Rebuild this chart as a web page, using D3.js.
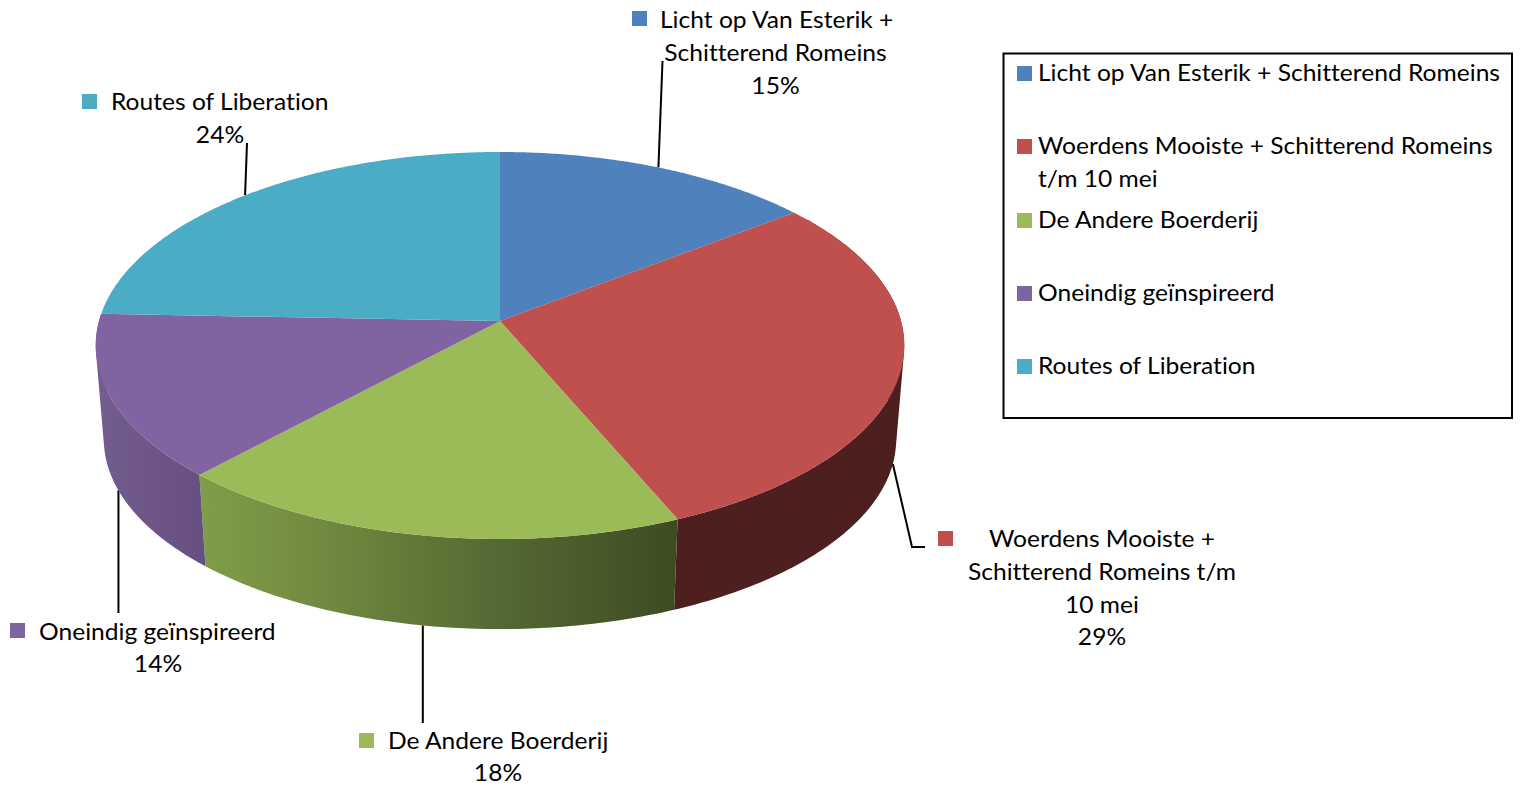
<!DOCTYPE html>
<html>
<head>
<meta charset="utf-8">
<script src="https://cdn.jsdelivr.net/npm/d3@7/dist/d3.min.js"></script>
<style>
html,body{margin:0;padding:0;background:#fff;overflow:hidden}
text{font-family:Lato,"Open Sans",sans-serif;font-size:23.5px;fill:#000;font-variant-ligatures:none}
</style>
</head>
<body>
<svg id="chart" width="1523" height="787"></svg>
<script>
// ---- data ----
const categories = [
  "Licht op Van Esterik + Schitterend Romeins",
  "Woerdens Mooiste + Schitterend Romeins t/m 10 mei",
  "De Andere Boerderij",
  "Oneindig geïnspireerd",
  "Routes of Liberation"
];
const values = [14.5, 29.1, 18.3, 13.7, 24.4];
const percentLabels = ["15%", "29%", "18%", "14%", "24%"];
const colors = ["#4f81bd", "#bf504e", "#9bbb59", "#8064a2", "#4bacc6"];
const legendLines = [
  ["Licht op Van Esterik + Schitterend Romeins"],
  ["Woerdens Mooiste + Schitterend Romeins", "t/m 10 mei"],
  ["De Andere Boerderij"],
  ["Oneindig geïnspireerd"],
  ["Routes of Liberation"]
];
const labelLines = [
  ["Licht op Van Esterik +", "Schitterend Romeins"],
  ["Woerdens Mooiste +", "Schitterend Romeins t/m", "10 mei"],
  ["De Andere Boerderij"],
  ["Oneindig geïnspireerd"],
  ["Routes of Liberation"]
];

// ---- layout ----
const cx = 500, cy = 321, R = 401, B = 190.4, K = 0.1266;
const depth = 94.4, bottomScale = 0.98, lineH = 32.8;
const labelLayout = [
  {mx: 632, my: 11, cxText: 775.5, y0: 28, firstX: 660},
  {mx: 938, my: 531, cxText: 1102, y0: 547, firstX: 989},
  {mx: 359, my: 733, cxText: 498, y0: 748.5, firstX: 388},
  {mx: 10, my: 623, cxText: 158, y0: 639.5, firstX: 39},
  {mx: 82, my: 94, cxText: 220, y0: 110, firstX: 111}
];
const legendY = [81, 154, 228, 301, 374];

const svg = d3.select("#chart");
const defs = svg.append("defs");
function wallGradient(id, x1, x2, stops) {
  const g = defs.append("linearGradient").attr("id", id).attr("gradientUnits", "userSpaceOnUse")
    .attr("x1", x1).attr("x2", x2).attr("y1", 0).attr("y2", 0);
  stops.forEach(s => g.append("stop").attr("offset", s[0]).attr("stop-color", s[1]));
}
wallGradient("w1", 640, 900, [[0, "#4d1f1f"], [1, "#4d1f1f"]]);
wallGradient("w2", 204, 677, [[0, "#7f9d48"], [0.25, "#708a40"], [0.6, "#566b33"], [1, "#3e4b22"]]);
wallGradient("w3", 100, 204, [[0, "#735c8e"], [1, "#684f82"]]);

// perspective projection of a point on the pie's rim
const xS = d3.scaleLinear().domain([-1, 1]).range([cx - R, cx + R]);
const yS = d3.scaleLinear().domain([-1, 1]).range([cy + B, cy - B]);
function topPt(a) {
  const X = Math.sin(a), Y = Math.cos(a), w = 1 + K * Y;
  return [xS(X / w), yS(Y / w)];
}
function bottomPt(a) {
  const p = topPt(a);
  return [cx + bottomScale * (p[0] - cx), cy + depth + bottomScale * (p[1] - cy)];
}

const arcs = d3.pie().sort(null).value(d => d)(values);
const lineGen = d3.line();
const rad = Math.PI / 180;

// leaders first (below the pie)
const leaderG = svg.append("g").attr("fill", "none").attr("stroke", "#000").attr("stroke-width", 2);
arcs.forEach((d, i) => {
  const mid = (d.startAngle + d.endAngle) / 2;
  let pts;
  if (i === 0) pts = [topPt(mid), [662.5, 61]];
  if (i === 1) pts = [bottomPt(mid), [912, 547], [925, 547]];
  if (i === 2) pts = [bottomPt(mid), [bottomPt(mid)[0], 723]];
  if (i === 3) pts = [bottomPt(mid), [bottomPt(mid)[0], 613]];
  if (i === 4) pts = [topPt(mid), [247, 143]];
  leaderG.append("path").attr("d", lineGen(pts));
});

// side walls: swept rim segments, only the part that faces the viewer.
// Every small quad is given the same winding so overlaps never cancel.
const wallFrom = 55 * rad, wallTo = 272 * rad;
arcs.forEach((d, i) => {
  const a0 = Math.max(d.startAngle, wallFrom), a1 = Math.min(d.endAngle, wallTo);
  if (a1 <= a0) return;
  const steps = d3.range(a0, a1, 0.5 * rad).concat([a1]);
  let path = "";
  steps.forEach((a, n) => {
    if (n === 0) return;
    const prev = steps[Math.max(0, n - 2)];
    const quad = [topPt(prev), topPt(a), bottomPt(a), bottomPt(prev)];
    if (d3.polygonArea(quad) < 0) quad.reverse();
    path += lineGen(quad) + "Z";
  });
  svg.append("path").attr("d", path).attr("fill", `url(#w${i})`);
});

// top faces
arcs.forEach((d, i) => {
  const rim = d3.range(d.startAngle, d.endAngle, 0.5 * rad).concat([d.endAngle]).map(topPt);
  svg.append("path").attr("d", lineGen([[cx, cy], ...rim]) + "Z").attr("fill", colors[i]);
});

// text, slightly adjusted so widths match the reference
const probe = svg.append("text").text(legendLines[0][0]);
const k = 462 / probe.node().getComputedTextLength();
probe.remove();
function addText(g, str, x, y, anchor) {
  const t = g.append("text").attr("x", x).attr("y", y).attr("text-anchor", anchor).text(str);
  t.attr("textLength", t.node().getComputedTextLength() * k).attr("lengthAdjust", "spacingAndGlyphs");
}

// data labels
const labelG = svg.append("g");
labelLayout.forEach((L, i) => {
  labelG.append("rect").attr("x", L.mx).attr("y", L.my).attr("width", 15).attr("height", 15).attr("fill", colors[i]);
  const lines = labelLines[i];
  lines.forEach((s, j) => {
    if (j === 0) addText(labelG, s, L.firstX, L.y0, "start");
    else addText(labelG, s, L.cxText, L.y0 + j * lineH, "middle");
  });
  addText(labelG, percentLabels[i], L.cxText, L.y0 + lines.length * lineH, "middle");
});

// legend
const legendG = svg.append("g");
legendG.append("rect").attr("x", 1003.5).attr("y", 53.5).attr("width", 508.5).attr("height", 364.5)
  .attr("fill", "#fff").attr("stroke", "#000").attr("stroke-width", 2);
categories.forEach((c, i) => {
  legendG.append("rect").attr("x", 1017).attr("y", legendY[i] - 15).attr("width", 15).attr("height", 15).attr("fill", colors[i]);
  legendLines[i].forEach((s, j) => addText(legendG, s, 1038, legendY[i] + j * lineH, "start"));
});
</script>
</body>
</html>
